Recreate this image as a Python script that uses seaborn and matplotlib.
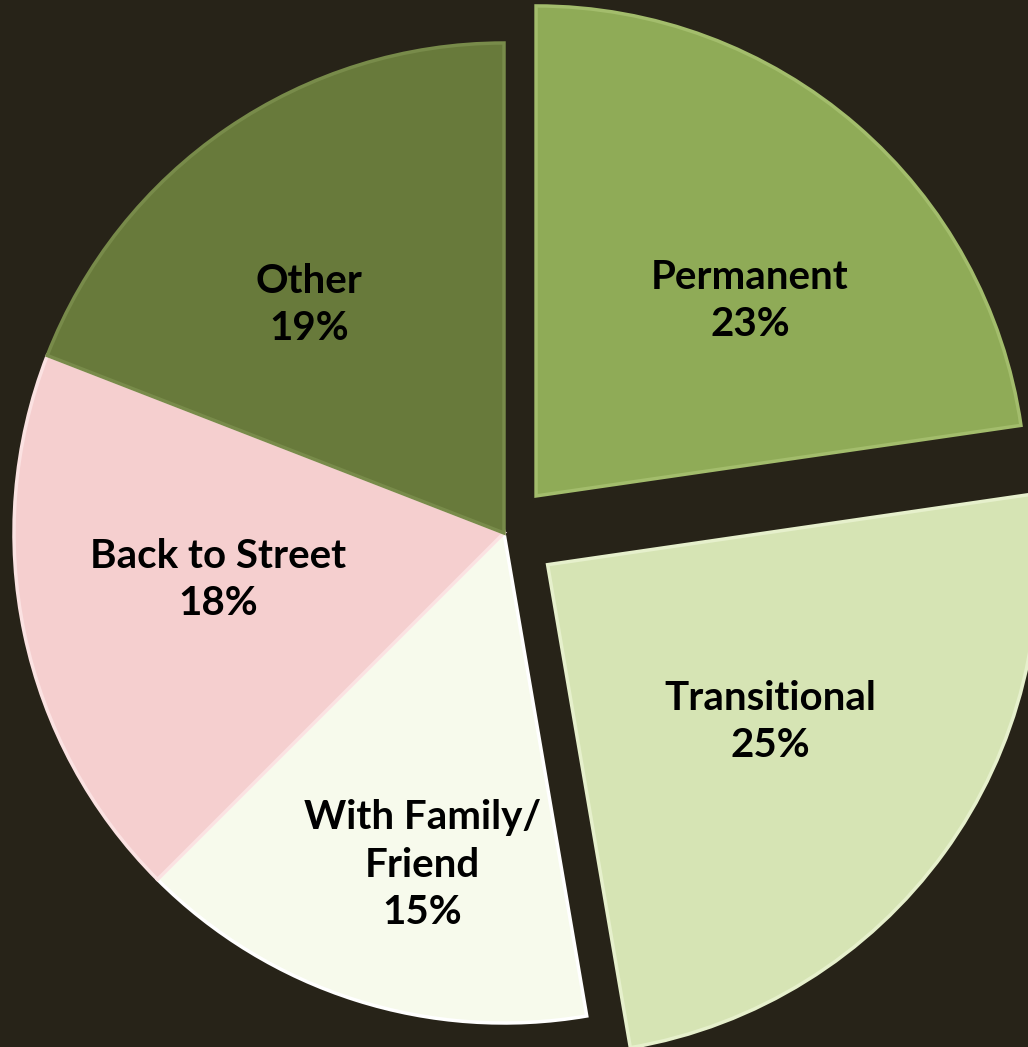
#!/usr/bin/env python3
"""Housing outcomes pie chart on a dark slide background."""

import matplotlib
matplotlib.use("Agg")
import matplotlib.pyplot as plt
import seaborn as sns

categories = ["Permanent", "Transitional", "With Family/\nFriend", "Back to Street", "Other"]
shares = [22.7, 24.6, 15.2, 18.4, 19.1]
colors = ["#8fab57", "#d6e4b4", "#f7faec", "#f5cfcf", "#687a3b"]
edge_colors = ["#a3bd6c", "#e6f0cc", "#ffffff", "#fbe2e2", "#788b4a"]
explode = [0.10, 0.11, 0.0, 0.0, 0.0]

# label anchor points (data units, pie radius = 1)
label_xy = [(0.502, 0.473), (0.543, -0.386), (-0.167, -0.678), (-0.584, -0.096), (-0.398, 0.465)]

BG = "#272318"


def main() -> None:
    sns.set_theme(style="white")
    plt.rcParams["font.family"] = ["Lato", "DejaVu Sans"]

    fig = plt.figure(figsize=(10.28, 10.47), dpi=100, facecolor=BG)
    ax = fig.add_axes([0, 0, 1, 1])
    ax.set_facecolor(BG)

    total = sum(shares)
    labels = [f"{c}\n{v / total * 100:.0f}%" for c, v in zip(categories, shares)]

    wedges, texts = ax.pie(
        shares,
        colors=colors,
        explode=explode,
        startangle=90,
        counterclock=False,
        labels=labels,
        labeldistance=0.6,
        wedgeprops=dict(linewidth=2.5, antialiased=True),
        textprops=dict(fontsize=29, fontweight="bold", color="black",
                       ha="center", va="center", linespacing=1.35),
    )
    for w, ec in zip(wedges, edge_colors):
        w.set_edgecolor(ec)
        w.set_joinstyle("miter")
    for t, xy in zip(texts, label_xy):
        t.set_position(xy)
        t.set_horizontalalignment("center")
        t.set_verticalalignment("center")

    ax.set_xlim(-504 / 490, (1028 - 504) / 490)
    ax.set_ylim(-514 / 490, 533 / 490)
    ax.set_aspect("equal")
    ax.axis("off")

    fig.savefig("out.png", dpi=100, facecolor=BG)
    plt.close(fig)


if __name__ == "__main__":
    main()
